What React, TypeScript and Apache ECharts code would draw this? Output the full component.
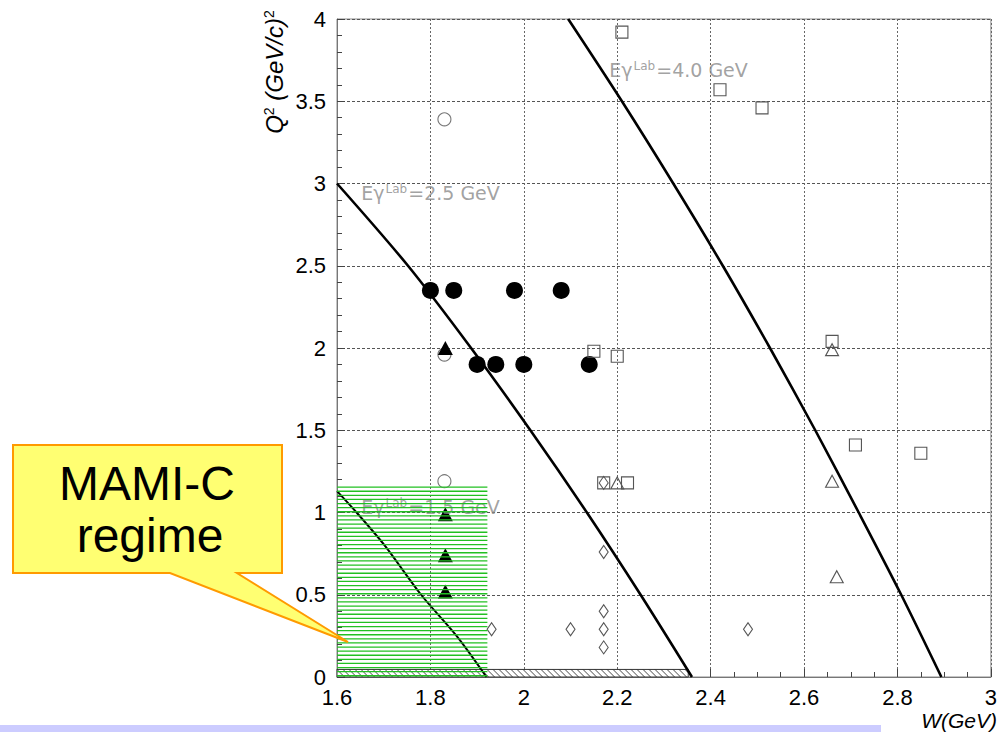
import React, { useEffect, useRef } from "react";
import * as echarts from "echarts";

// Kinematic curves (W in GeV, Q^2 in (GeV/c)^2)
const curve40W = [2.095, 2.21, 2.32, 2.426, 2.527, 2.624, 2.717, 2.808, 2.894];
const curve40Q = [4, 3.5, 3, 2.5, 2, 1.5, 1, 0.5, 0];
const curve25W = [1.6, 1.752, 1.887, 2.014, 2.135, 2.25, 2.36];
const curve25Q = [3.0, 2.5, 2.0, 1.5, 1.0, 0.5, 0];
const curve15W = [1.6, 1.642, 1.702, 1.78, 1.856, 1.92];
const curve15Q = [1.13, 1.0, 0.8, 0.5, 0.25, 0];

// Data points
const filledCircleW = [1.8, 1.85, 1.98, 2.08, 1.9, 1.94, 2.0, 2.14];
const filledCircleQ = [2.35, 2.35, 2.35, 2.35, 1.9, 1.9, 1.9, 1.9];
const openCircleW = [1.83, 1.83, 1.83];
const openCircleQ = [3.39, 1.96, 1.19];
const filledTriangleW = [1.832, 1.832, 1.832, 1.832];
const filledTriangleQ = [2.0, 0.99, 0.74, 0.52];
const openSquareW = [2.21, 2.42, 2.51, 2.15, 2.2, 2.66, 2.71, 2.85, 2.171, 2.222];
const openSquareQ = [3.92, 3.57, 3.46, 1.98, 1.95, 2.04, 1.41, 1.36, 1.18, 1.18];
const openTriangleW = [2.66, 2.66, 2.2, 2.67];
const openTriangleQ = [1.99, 1.19, 1.18, 0.61];
const openDiamondW = [2.171, 2.171, 2.171, 2.171, 2.171, 2.1, 1.931, 2.48];
const openDiamondQ = [1.18, 0.76, 0.4, 0.29, 0.18, 0.29, 0.29, 0.29];

// Curve labels
const labelW = [2.182, 1.651, 1.651];
const labelQ = [3.69, 2.944, 1.036];
const labelEnergy = ["4.0", "2.5", "1.5"];

// Regions [W0, Q0, W1, Q1]
const mamiRegion = [1.6, 0, 1.922, 1.154];
const hatchRegion = [1.6, 0, 2.352, 0.046];

const calloutLines = ["MAMI-C", "regime"];

const zip = (a: number[], b: number[]) => a.map((v, i) => [v, b[i]]);

export default function App() {
  const ref = useRef<HTMLDivElement>(null);
  useEffect(() => {
    document.body.style.margin = "0";
    const chart = echarts.init(ref.current!, null, { renderer: "svg" });
    const font = "Liberation Sans";
    const openStyle = (c: string) => ({ color: "rgba(0,0,0,0)", borderColor: c, borderWidth: 1.1, opacity: 1 });
    const curveSeries = (w: number[], q: number[], width: number) => ({
      type: "line",
      data: zip(w, q),
      showSymbol: false,
      symbol: "none",
      smooth: 0.3,
      lineStyle: { color: "#000", width },
      z: 2,
      silent: true,
    });
    const option: any = {
      animation: false,
      backgroundColor: "#fff",
      grid: {
        left: 337,
        right: 3,
        top: 19,
        bottom: 55,
        show: true,
        borderColor: "#8a8a8a",
        borderWidth: 1,
        backgroundColor: "transparent",
      },
      xAxis: {
        type: "value",
        min: 1.6,
        max: 3,
        interval: 0.2,
        axisLine: { show: true, lineStyle: { color: "#777", width: 1 } },
        axisTick: { show: true, inside: true, length: 8, lineStyle: { color: "#444" } },
        minorTick: { show: true, splitNumber: 4, length: 5, lineStyle: { color: "#444" } },
        splitLine: { show: true, lineStyle: { color: "#666", type: [2, 2], width: 1 } },
        axisLabel: {
          fontSize: 22,
          color: "#000",
          fontFamily: font,
          margin: 9,
          showMinLabel: true,
          showMaxLabel: true,
          formatter: (v: number) => String(Math.round(v * 10) / 10),
        },
      },
      yAxis: {
        type: "value",
        min: 0,
        max: 4,
        interval: 0.5,
        axisLine: { show: true, lineStyle: { color: "#777", width: 1 } },
        axisTick: { show: true, inside: true, length: 8, lineStyle: { color: "#444" } },
        minorTick: { show: true, splitNumber: 5, length: 5, lineStyle: { color: "#444" } },
        splitLine: { show: true, lineStyle: { color: "#555", type: [3, 2], width: 1 } },
        axisLabel: {
          fontSize: 22,
          color: "#000",
          fontFamily: font,
          margin: 11,
          showMinLabel: true,
          showMaxLabel: true,
          formatter: (v: number) => String(Math.round(v * 10) / 10),
        },
      },
      series: [
        curveSeries(curve40W, curve40Q, 2.6),
        curveSeries(curve25W, curve25Q, 2.6),
        curveSeries(curve15W, curve15Q, 2),
        {
          type: "custom",
          coordinateSystem: "cartesian2d",
          z: 1,
          silent: true,
          data: [hatchRegion],
          renderItem: (params: any, api: any) => {
            const p0 = api.coord([api.value(0), api.value(3)]);
            const p1 = api.coord([api.value(2), api.value(1)]);
            const h = p1[1] - p0[1];
            const children: any[] = [];
            children.push({
              type: "rect",
              shape: { x: p0[0], y: p0[1], width: p1[0] - p0[0], height: h },
              style: { fill: "#fff", stroke: "#333", lineWidth: 1 },
            });
            for (let x = p0[0]; x < p1[0]; x += 6) {
              const x2 = Math.min(x + h, p1[0]);
              const y2 = p0[1] + (x2 - x);
              children.push({
                type: "line",
                shape: { x1: x, y1: p0[1], x2, y2 },
                style: { stroke: "#333", lineWidth: 0.9 },
              });
            }
            return { type: "group", children };
          },
        },
        {
          type: "scatter",
          data: zip(openCircleW, openCircleQ),
          symbol: "circle",
          symbolSize: 13,
          itemStyle: openStyle("#777"),
          z: 3,
        },
        {
          type: "scatter",
          data: zip(filledCircleW, filledCircleQ),
          symbol: "circle",
          symbolSize: 17,
          itemStyle: { color: "#000", opacity: 1 },
          z: 3,
        },
        {
          type: "scatter",
          data: zip(filledTriangleW, filledTriangleQ),
          symbol: "triangle",
          symbolSize: [15, 14],
          itemStyle: { color: "#000", opacity: 1 },
          z: 3,
        },
        {
          type: "scatter",
          data: zip(openSquareW, openSquareQ),
          symbol: "rect",
          symbolSize: 12,
          itemStyle: openStyle("#555"),
          z: 3,
        },
        {
          type: "scatter",
          data: zip(openTriangleW, openTriangleQ),
          symbol: "triangle",
          symbolSize: [13, 12],
          itemStyle: openStyle("#555"),
          z: 3,
        },
        {
          type: "scatter",
          data: zip(openDiamondW, openDiamondQ),
          symbol: "diamond",
          symbolSize: [9, 13],
          itemStyle: openStyle("#555"),
          z: 3,
        },
        {
          type: "scatter",
          data: zip(labelW, labelQ),
          symbolSize: 1,
          itemStyle: { color: "rgba(0,0,0,0)" },
          z: 3,
          silent: true,
          label: {
            show: true,
            position: "right",
            distance: 0,
            formatter: (p: any) => `{a|Eγ}{s|Lab}{a|=${labelEnergy[p.dataIndex]} GeV}`,
            rich: {
              a: { fontSize: 19, color: "#8a8a8a", fontFamily: "DejaVu Sans" },
              s: { fontSize: 12, color: "#8a8a8a", fontFamily: "DejaVu Sans", verticalAlign: "top", padding: [0, 1, 0, 1] },
            },
          },
        },
        {
          type: "custom",
          coordinateSystem: "cartesian2d",
          z: 5,
          silent: true,
          data: [mamiRegion],
          renderItem: (params: any, api: any) => {
            const p0 = api.coord([api.value(0), api.value(3)]);
            const p1 = api.coord([api.value(2), api.value(1)]);
            const children: any[] = [];
            for (let y = p0[1]; y <= p1[1] + 0.5; y += 4.1) {
              children.push({
                type: "line",
                shape: { x1: p0[0], y1: y, x2: p1[0], y2: y },
                style: { stroke: "#22c022", lineWidth: 1.3 },
              });
            }
            return { type: "group", children };
          },
        },
      ],
      graphic: [
        {
          type: "rect",
          z: 50,
          shape: { x: 0, y: 725, width: 881, height: 7 },
          style: { fill: "#ccccff" },
        },
        {
          type: "text",
          z: 50,
          x: 274,
          y: 72,
          rotation: Math.PI / 2,
          style: {
            text: "{q|Q}{s|2}{q| (GeV/c)}{s|2}",
            align: "center",
            verticalAlign: "middle",
            rich: {
              q: { fontSize: 24, fontStyle: "italic", fontFamily: font, fill: "#000" },
              s: { fontSize: 14, fontFamily: font, verticalAlign: "top", fill: "#000" },
            },
          },
        },
        {
          type: "text",
          z: 50,
          x: 997,
          y: 720,
          style: {
            text: "W(GeV)",
            align: "right",
            verticalAlign: "middle",
            fontSize: 21,
            fontStyle: "italic",
            fontFamily: font,
            fill: "#000",
          },
        },
        {
          type: "polygon",
          z: 100,
          shape: {
            points: [
              [13, 445],
              [282, 445],
              [282, 573],
              [237, 573],
              [348, 642],
              [170, 573],
              [13, 573],
            ],
          },
          style: { fill: "#ffff72", stroke: "#ff9a00", lineWidth: 2, lineJoin: "miter" },
        },
        {
          type: "text",
          z: 101,
          x: 147,
          y: 483,
          style: {
            text: calloutLines[0],
            align: "center",
            verticalAlign: "middle",
            fontSize: 48,
            fontFamily: font,
            fill: "#000",
          },
        },
        {
          type: "text",
          z: 101,
          x: 150,
          y: 535,
          style: {
            text: calloutLines[1],
            align: "center",
            verticalAlign: "middle",
            fontSize: 48,
            fontFamily: font,
            fill: "#000",
          },
        },
      ],
    };
    chart.setOption(option);
    return () => chart.dispose();
  }, []);
  return <div ref={ref} style={{ width: 1000, height: 732 }} />;
}
